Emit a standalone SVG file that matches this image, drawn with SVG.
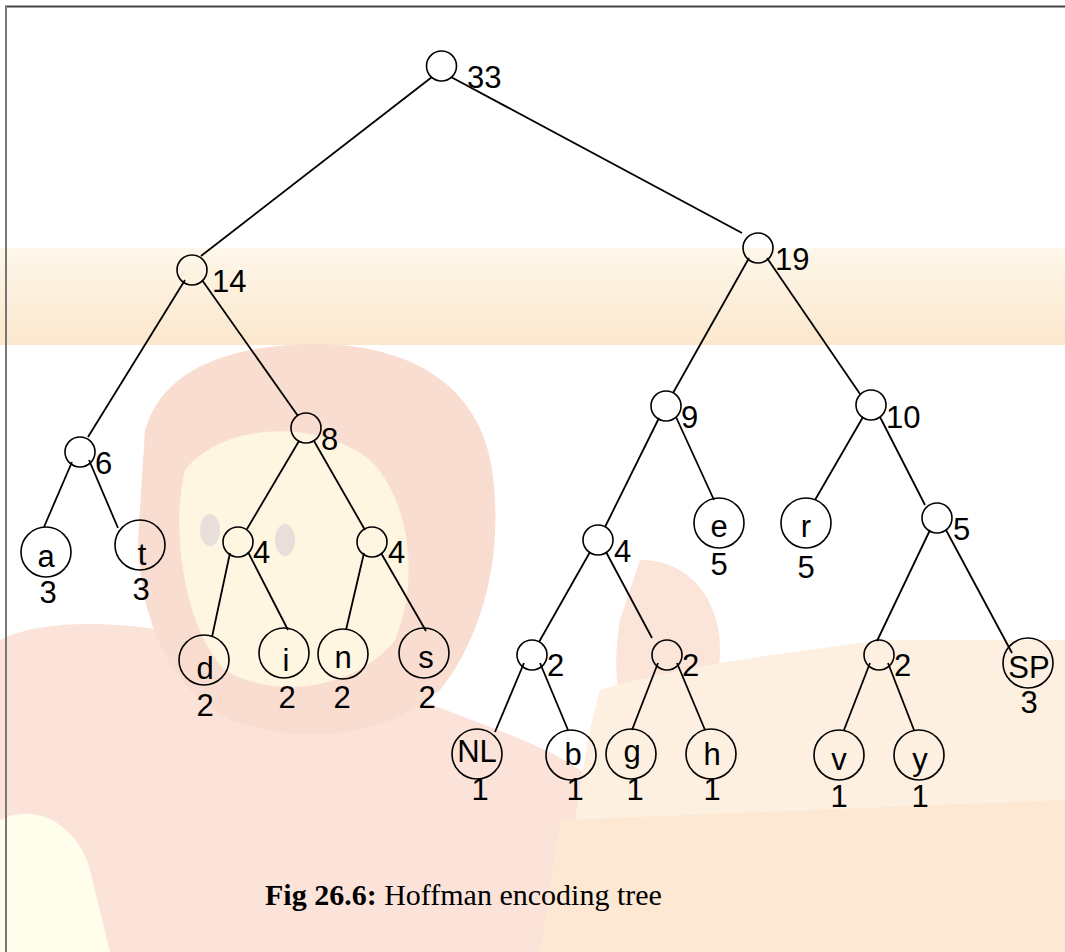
<svg xmlns="http://www.w3.org/2000/svg" width="1065" height="952" viewBox="0 0 1065 952">
  <style>
    .inner { fill: none; stroke: #000; stroke-width: 1.6; }
    .leaf { fill: none; stroke: #000; stroke-width: 1.6; }
    .edge { stroke: #000; stroke-width: 1.8; fill: none; }
    .lbl { font-family: "Liberation Sans", Arial, sans-serif; font-size: 31px; fill: #000; }
    .mid { text-anchor: middle; }
    .cap { font-family: "Liberation Serif", "Times New Roman", serif; font-size: 30px; fill: #000; }
  </style>
  <defs>
    <linearGradient id="band" x1="0" y1="0" x2="0" y2="1">
      <stop offset="0" stop-color="#fef7ea"/>
      <stop offset="1" stop-color="#fbe7cc"/>
    </linearGradient>
  </defs>

  <!-- faded backdrop -->
  <g id="backdrop">
    <rect x="0" y="0" width="1065" height="952" fill="#ffffff"/>
    <rect x="0" y="248" width="1065" height="97" fill="url(#band)"/>
    <!-- body / lower left -->
    <path d="M0,640 C80,600 260,640 420,700 C520,740 600,760 620,820 L620,952 L0,952 Z" fill="#fbe3da"/>
    <path d="M0,820 C40,800 80,830 90,870 L110,952 L0,952 Z" fill="#fffdeb"/>
    <!-- head -->
    <path d="M145,430 C165,360 250,340 340,345 C420,352 480,390 492,470 C505,560 480,640 440,690 C380,740 300,745 230,720 C170,690 140,620 138,540 Z" fill="#f9ddd1"/>
    <path d="M185,470 C225,420 320,420 370,460 C410,500 420,580 395,640 C355,690 275,700 225,670 C185,630 170,530 185,470 Z" fill="#fff6e2"/>
    <ellipse cx="210" cy="530" rx="10" ry="16" fill="#e8dfdb"/>
    <ellipse cx="285" cy="540" rx="10" ry="16" fill="#e8dfdb"/>
    <!-- ear -->
    <path d="M640,560 C690,560 720,600 720,650 C720,700 690,730 650,730 C620,730 610,680 620,620 Z" fill="#fbe5d9"/>
    <!-- sign board -->
    <path d="M600,690 C700,660 820,650 880,640 L1065,640 L1065,952 L560,952 C570,860 580,760 600,690 Z" fill="#fdf0e1"/>
    <path d="M560,820 L1065,800 L1065,952 L540,952 Z" fill="#fde8d3"/>
  </g>

  <!-- frame -->
  <g id="frame">
    <line x1="5" y1="6.5" x2="1065" y2="6.5" stroke="#444" stroke-width="2"/>
    <line x1="6" y1="6" x2="6" y2="952" stroke="#777" stroke-width="2"/>
  </g>

  <!-- connectors -->
  <g id="edges" class="edge">
    <line x1="432" y1="77" x2="201" y2="256"/>
    <line x1="451" y1="77" x2="742" y2="233"/>
    <line x1="185" y1="280" x2="88" y2="437"/>
    <line x1="202" y1="280" x2="298" y2="416"/>
    <line x1="72" y1="462" x2="44" y2="527"/>
    <line x1="89" y1="460" x2="118" y2="528"/>
    <line x1="299" y1="441" x2="247" y2="529"/>
    <line x1="314" y1="441" x2="365" y2="530"/>
    <line x1="230" y1="553" x2="212" y2="637"/>
    <line x1="248" y1="552" x2="288" y2="630"/>
    <line x1="364" y1="553" x2="346" y2="630"/>
    <line x1="381" y1="553" x2="426" y2="631"/>
    <line x1="749" y1="258" x2="673" y2="393"/>
    <line x1="767" y1="258" x2="860" y2="394"/>
    <line x1="659" y1="418" x2="605" y2="527"/>
    <line x1="676" y1="417" x2="714" y2="500"/>
    <line x1="863" y1="417" x2="815" y2="500"/>
    <line x1="880" y1="417" x2="925" y2="505"/>
    <line x1="590" y1="552" x2="539" y2="642"/>
    <line x1="606" y1="552" x2="652" y2="638"/>
    <line x1="524" y1="663" x2="495" y2="732"/>
    <line x1="540" y1="663" x2="568" y2="730"/>
    <line x1="658" y1="663" x2="632" y2="730"/>
    <line x1="677" y1="663" x2="705" y2="730"/>
    <line x1="930" y1="530" x2="877" y2="641"/>
    <line x1="946" y1="530" x2="1012" y2="653"/>
    <line x1="870" y1="663" x2="844" y2="730"/>
    <line x1="888" y1="663" x2="914" y2="730"/>
  </g>

  <!-- internal nodes -->
  <g id="n33"><circle class="inner" cx="441.5" cy="66" r="15"/><text class="lbl" x="467" y="88">33</text></g>
  <g id="n14"><circle class="inner" cx="192" cy="270" r="15"/><text class="lbl" x="212" y="292">14</text></g>
  <g id="n19"><circle class="inner" cx="758" cy="248" r="15"/><text class="lbl" x="775" y="270">19</text></g>
  <g id="n6"><circle class="inner" cx="80" cy="452" r="15"/><text class="lbl" x="95" y="474">6</text></g>
  <g id="n8"><circle class="inner" cx="306" cy="428" r="15"/><text class="lbl" x="321" y="450">8</text></g>
  <g id="n4a"><circle class="inner" cx="238" cy="542" r="15"/><text class="lbl" x="253" y="563">4</text></g>
  <g id="n4b"><circle class="inner" cx="372" cy="542" r="15"/><text class="lbl" x="388" y="563">4</text></g>
  <g id="n9"><circle class="inner" cx="666" cy="406" r="15"/><text class="lbl" x="681" y="428">9</text></g>
  <g id="n10"><circle class="inner" cx="871" cy="405" r="15"/><text class="lbl" x="886" y="428">10</text></g>
  <g id="n4c"><circle class="inner" cx="598" cy="540" r="15"/><text class="lbl" x="614" y="562">4</text></g>
  <g id="n5"><circle class="inner" cx="937" cy="518" r="15"/><text class="lbl" x="953" y="540">5</text></g>
  <g id="n2a"><circle class="inner" cx="532" cy="655" r="15"/><text class="lbl" x="547" y="676">2</text></g>
  <g id="n2b"><circle class="inner" cx="667" cy="655" r="15"/><text class="lbl" x="682" y="676">2</text></g>
  <g id="n2c"><circle class="inner" cx="879" cy="655" r="15"/><text class="lbl" x="894" y="676">2</text></g>

  <!-- leaf nodes -->
  <g id="leaf-a"><circle class="leaf" cx="46" cy="552" r="25"/><text class="lbl mid" x="46" y="567">a</text><text class="lbl mid" x="48" y="603">3</text></g>
  <g id="leaf-t"><circle class="leaf" cx="140" cy="545" r="25"/><text class="lbl mid" x="142" y="565">t</text><text class="lbl mid" x="141" y="600">3</text></g>
  <g id="leaf-d"><circle class="leaf" cx="204" cy="660" r="25"/><text class="lbl mid" x="205" y="679">d</text><text class="lbl mid" x="205" y="716">2</text></g>
  <g id="leaf-i"><circle class="leaf" cx="284" cy="653" r="25"/><text class="lbl mid" x="286" y="671">i</text><text class="lbl mid" x="287" y="708">2</text></g>
  <g id="leaf-n"><circle class="leaf" cx="343" cy="654" r="25"/><text class="lbl mid" x="343" y="668">n</text><text class="lbl mid" x="342" y="708">2</text></g>
  <g id="leaf-s"><circle class="leaf" cx="424" cy="653" r="25"/><text class="lbl mid" x="426" y="668">s</text><text class="lbl mid" x="427" y="708">2</text></g>
  <g id="leaf-e"><circle class="leaf" cx="719" cy="523" r="25"/><text class="lbl mid" x="719" y="537">e</text><text class="lbl mid" x="719" y="575">5</text></g>
  <g id="leaf-r"><circle class="leaf" cx="806" cy="523" r="25"/><text class="lbl mid" x="806" y="537">r</text><text class="lbl mid" x="806" y="578">5</text></g>
  <g id="leaf-SP"><circle class="leaf" cx="1028" cy="663" r="25"/><text class="lbl mid" x="1029" y="678">SP</text><text class="lbl mid" x="1029" y="713">3</text></g>
  <g id="leaf-NL"><circle class="leaf" cx="477" cy="754" r="25"/><text class="lbl mid" x="477" y="762">NL</text><text class="lbl mid" x="480" y="800">1</text></g>
  <g id="leaf-b"><circle class="leaf" cx="571" cy="755" r="25"/><text class="lbl mid" x="573" y="765">b</text><text class="lbl mid" x="575" y="800">1</text></g>
  <g id="leaf-g"><circle class="leaf" cx="631" cy="754" r="25"/><text class="lbl mid" x="632" y="762">g</text><text class="lbl mid" x="635" y="800">1</text></g>
  <g id="leaf-h"><circle class="leaf" cx="711" cy="754" r="25"/><text class="lbl mid" x="712" y="765">h</text><text class="lbl mid" x="712" y="800">1</text></g>
  <g id="leaf-v"><circle class="leaf" cx="839" cy="755" r="25"/><text class="lbl mid" x="839" y="770">v</text><text class="lbl mid" x="839" y="807">1</text></g>
  <g id="leaf-y"><circle class="leaf" cx="919" cy="755" r="25"/><text class="lbl mid" x="920" y="770">y</text><text class="lbl mid" x="920" y="807">1</text></g>

  <!-- caption -->
  <text class="cap" x="265" y="905"><tspan font-weight="bold">Fig 26.6:</tspan> Hoffman encoding tree</text>
</svg>
